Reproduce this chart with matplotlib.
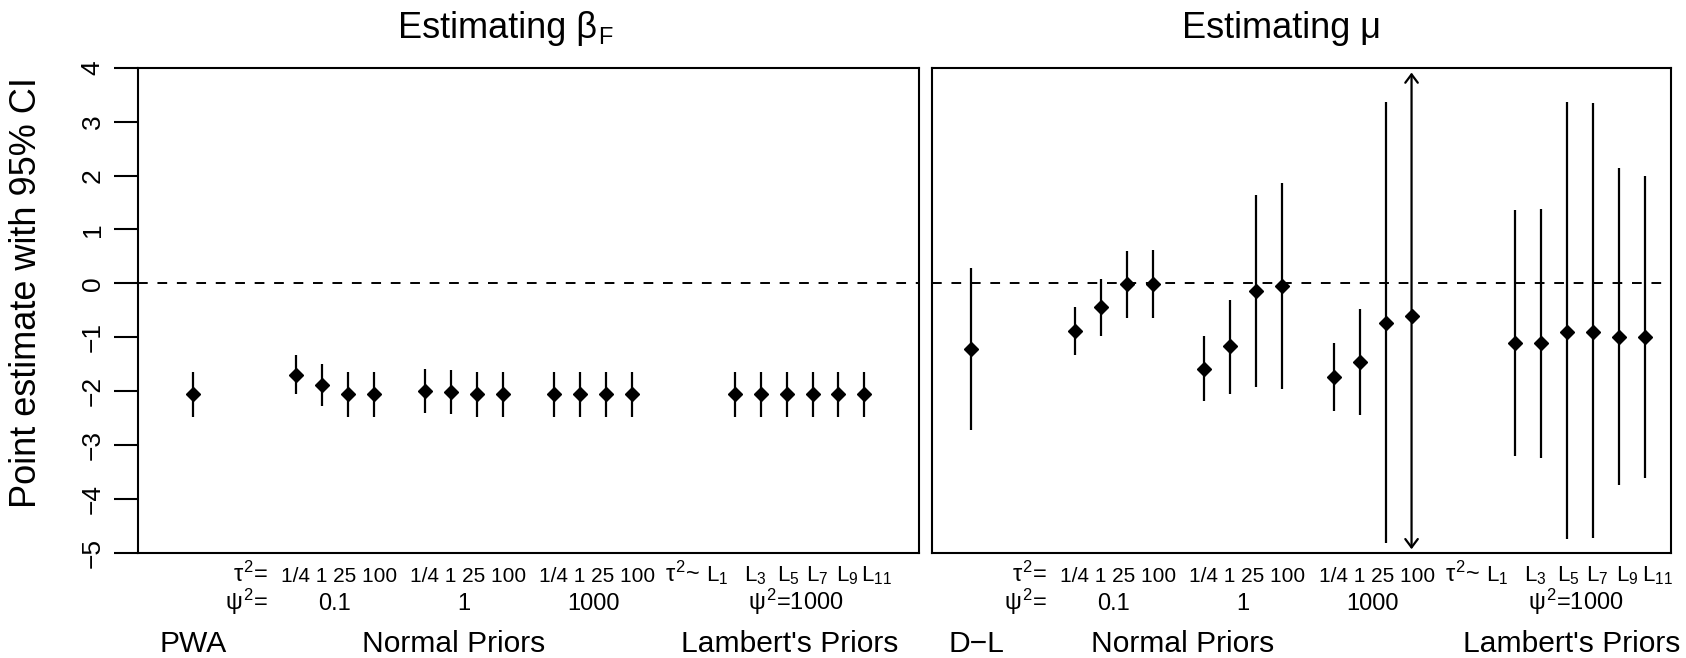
import matplotlib
matplotlib.use('Agg')
import matplotlib.pyplot as plt
import matplotlib.transforms as mtransforms

plt.rcParams['font.family'] = ['Liberation Sans', 'DejaVu Sans']
plt.rcParams['mathtext.fontset'] = 'custom'
plt.rcParams['mathtext.rm'] = 'Liberation Sans'
plt.rcParams['mathtext.it'] = 'Liberation Sans'
plt.rcParams['mathtext.bf'] = 'Liberation Sans:bold'

# x slots: reference method, 3 groups of normal priors, Lambert's priors
x_pos = [1, 5, 6, 7, 8, 10, 11, 12, 13, 15, 16, 17, 18, 22, 23, 24, 25, 26, 27]

# Estimating beta_F
beta_est = [-2.06, -1.69, -1.88, -2.06, -2.06, -1.99, -2.01, -2.06, -2.06,
            -2.06, -2.06, -2.06, -2.06, -2.06, -2.06, -2.06, -2.06, -2.06, -2.06]
beta_lo = [-2.48, -2.06, -2.28, -2.47, -2.48, -2.41, -2.43, -2.48, -2.48,
           -2.48, -2.48, -2.48, -2.48, -2.48, -2.48, -2.48, -2.48, -2.48, -2.48]
beta_hi = [-1.64, -1.32, -1.49, -1.64, -1.64, -1.59, -1.61, -1.64, -1.64,
           -1.64, -1.64, -1.64, -1.64, -1.64, -1.64, -1.64, -1.64, -1.64, -1.64]
beta_arrow = [False] * 19

# Estimating mu
mu_est = [-1.22, -0.88, -0.43, -0.02, -0.01, -1.58, -1.17, -0.15, -0.05,
          -1.73, -1.46, -0.73, -0.60, -1.11, -1.11, -0.90, -0.90, -1.00, -1.00]
mu_lo = [-2.72, -1.33, -0.97, -0.65, -0.65, -2.18, -2.06, -1.93, -1.96,
         -2.36, -2.45, -4.82, -4.93, -3.21, -3.23, -4.74, -4.72, -3.73, -3.60]
mu_hi = [0.28, -0.43, 0.09, 0.60, 0.61, -0.98, -0.30, 1.63, 1.87,
         -1.11, -0.48, 3.36, 3.91, 1.36, 1.38, 3.36, 3.35, 2.14, 1.99]
mu_arrow = [False] * 12 + [True] + [False] * 6

# labels under the panels
tau_vals = '1/4 1 25 100'
psi_vals = ['0.1', '1', '1000']
group_x = [6.5, 11.5, 16.5]
lambert_names = [r'$\mathregular{L_{1}}$', r'$\mathregular{L_{3}}$', r'$\mathregular{L_{5}}$',
                 r'$\mathregular{L_{7}}$', r'$\mathregular{L_{9}}$', r'$\mathregular{L_{11}}$']
lambert_x = [21.3, 22.77, 24.04, 25.16, 26.33, 27.49]

W, H = 1686, 658
fig = plt.figure(figsize=(W / 100, H / 100), dpi=100)
ax1 = fig.add_axes([138 / W, 105 / H, 781 / W, 485.3 / H])
ax2 = fig.add_axes([932 / W, 105 / H, 739 / W, 485.3 / H])


def draw_panel(ax, est, lo, hi, arrow, xlim, first_name, first_x, normal_x, lambert_cx):
    for x, e, l, h, a in zip(x_pos, est, lo, hi, arrow):
        if a:
            ax.annotate('', xy=(x, l), xytext=(x, h),
                        arrowprops=dict(arrowstyle='<->,head_length=0.6,head_width=0.45',
                                        lw=1.6, color='black', shrinkA=0, shrinkB=0),
                        annotation_clip=False)
        else:
            ax.vlines(x, l, h, color='black', lw=1.6)
    ax.plot(x_pos, est, 'D', ms=6.7, color='black')
    ax.axhline(0, color='black', lw=1.4, ls=(0, (5, 5)))
    ax.set_xlim(xlim)
    ax.set_ylim(-5, 4)
    ax.set_xticks([])
    for s in ax.spines.values():
        s.set_linewidth(1.5)

    tr = mtransforms.blended_transform_factory(ax.transData, fig.transFigure)
    y1, y2, y3 = 0.116, 0.073, 0.0096
    ax.text(3.9, y1, r'$\tau^2$=', transform=tr, ha='right', va='baseline', fontsize=17)
    ax.text(3.9, y2, r'$\psi^2$=', transform=tr, ha='right', va='baseline', fontsize=17)
    for gx, pv in zip(group_x, psi_vals):
        ax.text(gx + 0.15, y1, tau_vals, transform=tr, ha='center', va='baseline', fontsize=15)
        ax.text(gx, y2, pv, transform=tr, ha='center', va='baseline', fontsize=17)
    ax.text(20.65, y1, r'$\tau^2$~', transform=tr, ha='right', va='baseline', fontsize=17)
    for lx, ln in zip(lambert_x, lambert_names):
        ax.text(lx, y1, ln, transform=tr, ha='center', va='baseline', fontsize=16)
    ax.text(24.35, y2, r'$\psi^2$=1000', transform=tr, ha='center', va='baseline', fontsize=17)
    ax.text(first_x, y3, first_name, transform=tr, ha='center', va='baseline', fontsize=21.6)
    ax.text(normal_x, y3, 'Normal Priors', transform=tr, ha='center', va='baseline', fontsize=21.6)
    ax.text(lambert_cx, y3, "Lambert's Priors", transform=tr, ha='center', va='baseline', fontsize=21.6)


draw_panel(ax1, beta_est, beta_lo, beta_hi, beta_arrow, (-1.12, 29.12), 'PWA', 1.0, 11.1, 24.1)
draw_panel(ax2, mu_est, mu_lo, mu_hi, mu_arrow, (-0.52, 28.02), 'D\u2212L', 1.2, 9.15, 24.2)

ax1.set_yticks(range(-5, 5))
ax1.tick_params(axis='y', length=17, width=1.5, pad=7, labelsize=19, labelrotation=90)
for lab in ax1.get_yticklabels():
    lab.set_va('center')
ax2.set_yticks([])

ax1.set_ylabel('Point estimate with 95% CI', fontsize=26)
ax1.yaxis.label.set_va('center')
ax1.yaxis.set_label_coords(27 / W, 1 - 293 / H, transform=fig.transFigure)

# titles; the F of beta_F is a small subscript
title_y = 1 - 38.3 / H
t1 = fig.text(398 / W, title_y, 'Estimating \u03b2', ha='left', va='baseline', fontsize=26)
bb = t1.get_window_extent(fig.canvas.get_renderer())
fig.text((bb.x1 + 1) / W, title_y - 6 / H, 'F', ha='left', va='baseline', fontsize=17)
fig.text(1281 / W, title_y, 'Estimating \u03bc', ha='center', va='baseline', fontsize=26)

fig.savefig('out.png', dpi=100)
